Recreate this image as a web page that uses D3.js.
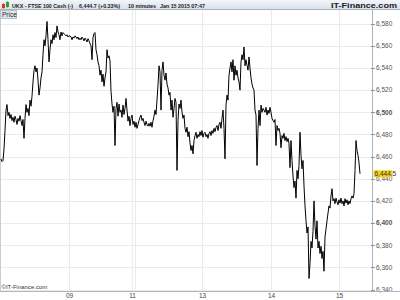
<!DOCTYPE html>
<html>
<head>
<meta charset="utf-8">
<script src="https://cdn.jsdelivr.net/npm/d3@7"></script>
<style>
  body { margin: 0; background: #fff; }
  svg { display: block; font-family: "Liberation Sans", Arial, sans-serif; }
</style>
</head>
<body>
<svg id="chart" width="400" height="300"></svg>
<script>
// 10 minute closes, one per pixel column
var prices = [
  6458,6455.5,6456.5,6467,6483.5,6502,6507,6497,6500,6494.5,
  6498,6492.5,6495.5,6491,6496.5,6493.5,6489,6494.5,6492,6497,
  6492.5,6488,6493.5,6476.5,6494.5,6507,6500,6503.5,6497,6511,
  6505.5,6514.5,6527.5,6538,6542,6536.5,6540,6529,6515.5,6522,
  6531,6536.5,6552,6565.5,6560,6569,6582,6565.5,6545.5,6556.5,
  6565.5,6562,6570,6565.5,6572,6567.5,6578,6572.5,6570,6565.5,
  6572.5,6569,6572,6571,6570,6569,6570,6568,6569,6569,
  6568,6565.5,6568,6567,6569,6568,6566.5,6568,6565.5,6567,
  6565.5,6568,6566.5,6564.5,6567,6565.5,6563.5,6566.5,6564.5,6562,
  6560,6547.5,6567.5,6571,6572,6556.5,6552,6545.5,6542,6533.5,
  6538,6527.5,6534.5,6523.5,6531,6536.5,6556.5,6549,6551,6546.5,
  6519,6507.5,6500,6505.5,6470,6503.5,6509,6496.5,6507.5,6500,
  6502,6495.5,6506.5,6498,6503.5,6512.5,6502,6492,6496.5,6488,
  6494.5,6497.5,6489,6492,6486.5,6491,6485.5,6489,6492.5,6495.5,
  6497.5,6492.5,6494.5,6491,6488,6492,6489,6487.5,6490,6487.5,
  6491,6486.5,6492.5,6496.5,6502,6498,6511,6524.5,6542,6536.5,
  6502,6538,6545.5,6533.5,6529,6535.5,6525.5,6522,6515.5,6518,
  6502,6511,6495.5,6503.5,6512.5,6509,6447.5,6492.5,6507.5,6503.5,
  6511,6500,6494.5,6497.5,6485.5,6482,6486.5,6478,6482.5,6472.5,
  6465.5,6470,6462.5,6474.5,6479,6482,6476.5,6480,6478,6482.5,
  6479,6483.5,6477.5,6481,6482,6478,6480,6476.5,6481,6482.5,
  6479,6483.5,6481,6485.5,6482.5,6486.5,6488,6483.5,6489,6491,
  6485.5,6494.5,6502,6485.5,6458,6506.5,6515.5,6511,6533.5,6540,
  6545.5,6536.5,6547.5,6529,6542,6533.5,6538,6531,6527.5,6520,
  6545.5,6552,6547.5,6559,6542,6547.5,6542.5,6538,6550,6540,
  6531,6525.5,6522,6520,6502,6497.5,6452,6485.5,6502,6488,
  6506.5,6500,6503.5,6502,6500,6504.5,6497.5,6502,6499,6504.5,
  6500,6494.5,6492.5,6491,6493.5,6470,6488,6483.5,6485.5,6481,
  6468,6479,6476.5,6481,6474.5,6478,6473.5,6476.5,6472,6450,
  6474.5,6456.5,6442.5,6432,6438,6422.5,6447.5,6440,6452,6482,
  6461,6449,6456.5,6433.5,6415.5,6402,6391,6396.5,6350,6363.5,
  6383.5,6377.5,6392.5,6420,6397.5,6385.5,6402,6377.5,6383.5,6372.5,
  6379,6368,6374.5,6356.5,6387.5,6394.5,6402,6409,6415.5,6413.5,
  6424.5,6431,6420,6422,6417.5,6422.5,6419,6416.5,6421,6418,
  6422.5,6417.5,6420,6415.5,6422,6418,6421,6416.5,6420,6417.5,
  6422,6424.5,6422.5,6426.5,6447.5,6474.5,6465.5,6461,6454.5,6444.5
];

// day separators (index into prices) and their labels
var dayIdx    = [68, 131, 134, 201, 270, 338];
var dayLabels = ["09", "11", "", "13", "14", "15"];

var yTicks = [6340, 6360, 6380, 6400, 6420, 6440, 6460, 6480, 6500, 6520, 6540, 6560, 6580];
var lastPrice = 6444.5;

var svg = d3.select("#chart"),
  plotLeft = 0, plotRight = 372, plotTop = 10, plotBottom = 291;

var x = d3.scaleLinear()
  .domain([0, prices.length - 1])
  .range([1, 360]);

var y = d3.scaleLinear()
  .domain([6340, 6580])
  .range([289.5, 23.7]);

var fmt = d3.format(",");

// gradient for the title bar
var defs = svg.append("defs");
var grad = defs.append("linearGradient")
  .attr("id", "hdr")
  .attr("x1", 0).attr("y1", 0).attr("x2", 0).attr("y2", 1);
grad.append("stop").attr("offset", "0%").attr("stop-color", "#f3f6f9");
grad.append("stop").attr("offset", "100%").attr("stop-color", "#d6dee7");

// grid
var grid = svg.append("g");
grid.selectAll("line.h")
  .data(yTicks)
  .enter().append("line")
    .attr("class", "h")
    .attr("x1", plotLeft)
    .attr("x2", plotRight)
    .attr("y1", d => Math.round(y(d)) + 0.5)
    .attr("y2", d => Math.round(y(d)) + 0.5)
    .style("stroke", "#ebebeb");

grid.selectAll("line.v")
  .data(dayIdx)
  .enter().append("line")
    .attr("class", "v")
    .attr("x1", d => Math.round(x(d)) + 0.5)
    .attr("x2", d => Math.round(x(d)) + 0.5)
    .attr("y1", plotTop)
    .attr("y2", plotBottom)
    .style("stroke", "#ebebeb");

// left frame edge
svg.append("line")
  .attr("x1", 0.5).attr("x2", 0.5)
  .attr("y1", plotTop).attr("y2", plotBottom)
  .style("stroke", "#c5cfd9");

// price line
var line = d3.line()
  .x((d, i) => x(i))
  .y(d => y(d));

svg.append("path")
  .attr("fill", "none")
  .attr("stroke", "#000")
  .attr("stroke-width", 1)
  .attr("stroke-linejoin", "miter")
  .attr("d", line(prices));

// right price axis
var axisColor = "#aab6c2";
svg.append("line")
  .attr("x1", plotRight + 0.5).attr("x2", plotRight + 0.5)
  .attr("y1", plotTop).attr("y2", plotBottom)
  .style("stroke", axisColor);

var yAxis = svg.append("g");
yAxis.selectAll("line")
  .data(yTicks)
  .enter().append("line")
    .attr("x1", plotRight - 1)
    .attr("x2", plotRight + 3)
    .attr("y1", d => Math.round(y(d)) + 0.5)
    .attr("y2", d => Math.round(y(d)) + 0.5)
    .style("stroke", "#8894a0");

yAxis.selectAll("text")
  .data(yTicks)
  .enter().append("text")
    .attr("x", plotRight + 4)
    .attr("y", d => y(d) + 2.3)
    .attr("font-size", "6.5px")
    .attr("font-weight", d => (d % 100 === 0 ? "bold" : "normal"))
    .attr("fill", "#555")
    .text(d => fmt(d));

// last price marker
svg.append("rect")
  .attr("x", plotRight + 1.5)
  .attr("y", y(lastPrice) - 3.5)
  .attr("width", 19)
  .attr("height", 7)
  .attr("fill", "#f2d21a");
svg.append("text")
  .attr("x", plotRight + 2.5)
  .attr("y", y(lastPrice) + 2.3)
  .attr("font-size", "6.5px")
  .attr("fill", "#333")
  .text(d3.format(",.1f")(lastPrice));

// bottom axis
svg.append("line")
  .attr("x1", 0).attr("x2", 400)
  .attr("y1", plotBottom + 0.5).attr("y2", plotBottom + 0.5)
  .style("stroke", axisColor);

svg.append("g").selectAll("text")
  .data(dayIdx.map((d, i) => ({ idx: d, label: dayLabels[i] })).filter(d => d.label))
  .enter().append("text")
    .attr("x", d => x(d.idx) + 0.5)
    .attr("y", 298)
    .attr("text-anchor", "middle")
    .attr("font-size", "6.5px")
    .attr("fill", "#444")
    .text(d => d.label);

// watermark
svg.append("text")
  .attr("x", 1.5)
  .attr("y", 289)
  .attr("font-size", "6px")
  .attr("fill", "#333")
  .text("\u00a9IT-Finance.com");

// title bar
svg.append("rect")
  .attr("x", 0).attr("y", 0)
  .attr("width", 400).attr("height", 10)
  .attr("fill", "url(#hdr)");
svg.append("line")
  .attr("x1", 0).attr("x2", 400)
  .attr("y1", 9.5).attr("y2", 9.5)
  .style("stroke", "#a9b5c1");

// little candlestick icon
svg.append("rect").attr("x", 2).attr("y", 4).attr("width", 3).attr("height", 4).attr("fill", "#d33");
svg.append("rect").attr("x", 6).attr("y", 2).attr("width", 3).attr("height", 5).attr("fill", "#2a2");
svg.append("line").attr("x1", 3.5).attr("x2", 3.5).attr("y1", 3).attr("y2", 9).style("stroke", "#d33").style("stroke-width", 0.6);
svg.append("line").attr("x1", 7.5).attr("x2", 7.5).attr("y1", 1).attr("y2", 8).style("stroke", "#2a2").style("stroke-width", 0.6);

var titleParts = [
  { text: "UKX - FTSE 100 Cash (-)", x: 12, w: 61 },
  { text: "6,444.7 (+0.33%)", x: 79, w: 41 },
  { text: "10 minutes", x: 128, w: 28 },
  { text: "Jan 15 2015 07:47", x: 160, w: 45 }
];
svg.append("g").selectAll("text")
  .data(titleParts)
  .enter().append("text")
    .attr("x", d => d.x)
    .attr("y", 7.5)
    .attr("font-size", "6px")
    .attr("font-weight", "bold")
    .attr("fill", "#222")
    .attr("textLength", d => d.w)
    .attr("lengthAdjust", "spacingAndGlyphs")
    .text(d => d.text);

svg.append("text")
  .attr("x", 331)
  .attr("y", 7.5)
  .attr("font-size", "6.5px")
  .attr("font-weight", "bold")
  .attr("fill", "#222")
  .attr("textLength", 66)
  .attr("lengthAdjust", "spacingAndGlyphs")
  .text("IT-Finance.com");

// "Price" tag
svg.append("rect")
  .attr("x", 0.5).attr("y", 10.5)
  .attr("width", 16).attr("height", 8)
  .attr("fill", "#dfe6ee")
  .attr("stroke", "#b5c1cd");
svg.append("text")
  .attr("x", 2)
  .attr("y", 17)
  .attr("font-size", "6.5px")
  .attr("fill", "#222")
  .text("Price");
</script>
</body>
</html>
